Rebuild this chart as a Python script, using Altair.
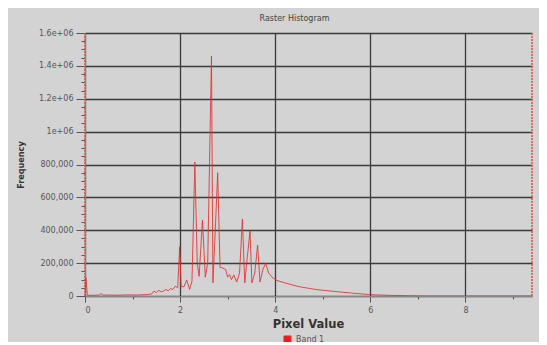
import altair as alt
import pandas as pd

pixel_value = [0.00, 0.02, 0.05, 0.15, 0.30, 0.34, 0.38, 0.50, 0.70, 0.90, 1.10, 1.30,
               1.40, 1.45, 1.50, 1.55, 1.60, 1.65, 1.70, 1.75, 1.80, 1.85, 1.90, 1.95,
               1.99, 2.02, 2.08, 2.14, 2.20, 2.25, 2.31, 2.36, 2.40, 2.47, 2.53, 2.58,
               2.66, 2.69, 2.73, 2.79, 2.84, 2.90, 2.96, 3.00, 3.04, 3.08, 3.13, 3.19,
               3.25, 3.31, 3.36, 3.40, 3.47, 3.51, 3.57, 3.63, 3.68, 3.74, 3.80, 3.86,
               3.95, 4.03, 4.20, 4.50, 4.80, 5.00, 5.30, 5.60, 6.00, 6.40, 6.80, 7.20, 9.40]
frequency = [0, 110000, 5000, 4000, 6000, 15000, 5000, 6000, 5000, 7000, 6000, 9000,
             12000, 30000, 20000, 35000, 25000, 30000, 40000, 32000, 45000, 40000, 60000, 50000,
             300000, 60000, 55000, 97000, 40000, 90000, 815000, 200000, 120000, 462000, 115000, 200000,
             1460000, 80000, 340000, 750000, 175000, 170000, 160000, 115000, 130000, 100000, 128000, 85000,
             140000, 468000, 80000, 200000, 395000, 80000, 140000, 310000, 85000, 160000, 200000, 140000,
             110000, 95000, 80000, 57000, 42000, 35000, 26000, 18000, 8000, 4000, 1500, 0, 0]
series = ["Band 1"] * len(pixel_value)
range_markers = [0.0, 9.4]
x_ticks = [i * 0.5 for i in range(0, 19)]
y_ticks = [i * 50000 for i in range(0, 33)]

df = pd.DataFrame({"pixel": pixel_value, "freq": frequency, "band": series})
rdf = pd.DataFrame({"x": range_markers})

x_scale = alt.Scale(domain=[0, 9.4], nice=False, zero=False)
y_scale = alt.Scale(domain=[0, 1600000], nice=False)

x_axis = alt.Axis(
    values=x_ticks,
    labelExpr="datum.value % 2 == 0 ? datum.value : ''",
    title="Pixel Value", titleFontSize=11.5, titleFontWeight="bold", titleColor="#333",
    titleFont="DejaVu Sans", titleY=22, titleX=223,
    labelFont="DejaVu Sans", labelFontSize=8, labelColor="#555", labelPadding=4,
    tickColor="#555", domainColor="#888",
    tickSize={"condition": {"test": "datum.value % 2 == 0", "value": 6}, "value": 3},
    gridColor="#3a3a3a", gridWidth=1.3,
    gridOpacity={"condition": {"test": "datum.value % 2 == 0", "value": 1}, "value": 0},
)
y_axis = alt.Axis(
    values=y_ticks,
    labelExpr="datum.value % 200000 != 0 ? '' : (datum.value >= 1000000 ? (datum.value == 1000000 ? '1e+06' : format(datum.value/1000000, '.1f') + 'e+06') : format(datum.value, ','))",
    title="Frequency", titleFontSize=9, titleFontWeight="bold", titleColor="#333",
    titleFont="DejaVu Sans Condensed", titleX=-60,
    labelFont="DejaVu Sans", labelFontSize=8, labelColor="#555", labelPadding=3,
    tickColor="#555", domainColor="#888",
    tickSize={"condition": {"test": "datum.value % 200000 == 0", "value": 9}, "value": 4},
    gridColor="#3a3a3a", gridWidth=1.3,
    gridOpacity={"condition": {"test": "datum.value % 200000 == 0", "value": 1}, "value": 0},
)

line = alt.Chart(df).mark_line(strokeWidth=1.0, opacity=0.85, clip=True).encode(
    x=alt.X("pixel:Q", scale=x_scale, axis=x_axis),
    y=alt.Y("freq:Q", scale=y_scale, axis=y_axis),
    color=alt.Color("band:N", scale=alt.Scale(range=["#e03030"]),
                    legend=alt.Legend(title=None, orient="none", legendX=198, legendY=302,
                                      symbolType="square", symbolSize=50,
                                      symbolFillColor="#e02020", symbolStrokeColor="#e02020",
                                      symbolStrokeWidth=1, symbolOpacity=1,
                                      labelFont="DejaVu Sans", labelFontSize=8,
                                      labelColor="#555", padding=0)),
)

markers = alt.Chart(rdf).mark_rule(color="#e05050", strokeDash=[2, 1], strokeWidth=1.5).encode(
    x=alt.X("x:Q", scale=x_scale),
)

chart = alt.layer(markers, line).properties(
    width=447, height=263,
    autosize=alt.AutoSizeParams(type="none"),
    padding={"left": 77, "top": 25, "right": 7, "bottom": 46},
    background="#d3d3d3",
    title=alt.TitleParams("Raster Histogram", fontSize=8, font="DejaVu Sans",
                          color="#444", fontWeight="normal", anchor="middle", dx=-14, offset=6),
).configure_view(fill="#d3d3d3", stroke=None)

chart.save("out.html", embed_options={"renderer": "svg", "actions": False})
